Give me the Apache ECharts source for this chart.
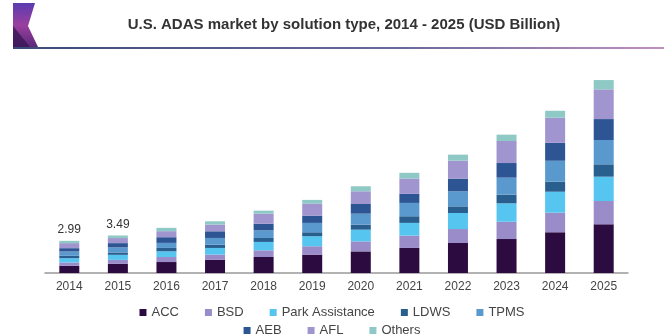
<!DOCTYPE html>
<html>
<head>
<meta charset="utf-8">
<title>U.S. ADAS market by solution type</title>
<script src="https://cdn.jsdelivr.net/npm/echarts@6/dist/echarts.min.js"></script>
<style>
  html, body { margin: 0; padding: 0; background: #ffffff; }
  #chart { width: 664px; height: 336px; }
</style>
</head>
<body>
<div id="chart"></div>
<script>
// Years on the category axis
const years = ['2014', '2015', '2016', '2017', '2018', '2019', '2020', '2021', '2022', '2023', '2024', '2025'];

// Market size per solution type, USD billion
const acc       = [0.67, 0.85, 1.02, 1.24, 1.49, 1.71, 2.01, 2.33, 2.79, 3.16, 3.79, 4.53];
const bsd       = [0.31, 0.37, 0.47, 0.47, 0.62, 0.78, 0.93, 1.15, 1.30, 1.61, 1.82, 2.17];
const parkAssist= [0.40, 0.47, 0.53, 0.62, 0.78, 0.93, 1.09, 1.18, 1.49, 1.71, 1.95, 2.26];
const ldws      = [0.22, 0.22, 0.31, 0.31, 0.37, 0.37, 0.47, 0.62, 0.62, 0.81, 0.93, 1.15];
const tpms      = [0.40, 0.47, 0.47, 0.62, 0.71, 0.87, 1.02, 1.24, 1.40, 1.58, 1.95, 2.26];
const aeb       = [0.31, 0.40, 0.53, 0.62, 0.62, 0.68, 0.90, 0.84, 1.18, 1.36, 1.67, 1.95];
const afl       = [0.47, 0.47, 0.56, 0.62, 0.93, 1.12, 1.18, 1.43, 1.67, 2.05, 2.33, 2.76];
const others    = [0.21, 0.24, 0.31, 0.31, 0.28, 0.34, 0.47, 0.53, 0.56, 0.59, 0.65, 0.87];

// Years whose stack total is printed above the bar
const labelledYears = ['2014', '2015'];

const seriesDefs = [
  { name: 'ACC', data: acc, color: '#2c0b40' },
  { name: 'BSD', data: bsd, color: '#9a8cc8' },
  { name: 'Park Assistance', data: parkAssist, color: '#56c5f0' },
  { name: 'LDWS', data: ldws, color: '#285f8f' },
  { name: 'TPMS', data: tpms, color: '#5a99cd' },
  { name: 'AEB', data: aeb, color: '#2d5593' },
  { name: 'AFL', data: afl, color: '#a095cf' },
  { name: 'Others', data: others, color: '#8fc9c5' }
];

function stackTotal(i) {
  return seriesDefs.reduce((s, d) => s + d.data[i], 0);
}

const FONT = '"Liberation Sans", Arial, sans-serif';

const series = seriesDefs.map((d, idx) => {
  const s = {
    name: d.name,
    type: 'bar',
    stack: 'total',
    barWidth: 20,
    data: d.data,
    itemStyle: { color: d.color },
    emphasis: { disabled: true }
  };
  if (idx === seriesDefs.length - 1) {
    s.label = {
      show: true,
      position: 'top',
      distance: 5,
      color: '#333',
      fontFamily: FONT,
      fontSize: 12,
      formatter: p => labelledYears.includes(p.name) ? stackTotal(p.dataIndex).toFixed(2) : ''
    };
  }
  return s;
});

const chart = echarts.init(document.getElementById('chart'), null, { renderer: 'canvas' });

chart.setOption({
  backgroundColor: '#ffffff',
  animation: false,
  title: {
    text: 'U.S. ADAS market by solution type, 2014 - 2025 (USD Billion)',
    left: 339,
    top: 12,
    textAlign: 'center',
    textStyle: { fontFamily: FONT, fontSize: 15, fontWeight: 'bold', color: '#333' }
  },
  graphic: [
    {
      type: 'polygon',
      shape: { points: [[13, 3], [35, 3], [28, 26], [38, 47], [13, 47]] },
      style: {
        fill: new echarts.graphic.LinearGradient(0, 0, 0, 1, [
          { offset: 0, color: '#5b3cb0' },
          { offset: 0.5, color: '#9a3f9f' },
          { offset: 1, color: '#5a2a7a' }
        ])
      }
    },
    {
      type: 'polygon',
      shape: { points: [[13, 26], [30, 47], [13, 47]] },
      style: { fill: '#3b1656', opacity: 0.8 }
    },
    {
      type: 'rect',
      shape: { x: 13, y: 47, width: 651, height: 2 },
      style: {
        fill: new echarts.graphic.LinearGradient(0, 0, 1, 0, [
          { offset: 0, color: '#3c4a7a' },
          { offset: 0.6, color: '#6a6a9a' },
          { offset: 1, color: '#c090c0' }
        ])
      }
    }
  ],
  legend: [
    {
      data: ['ACC', 'BSD', 'Park Assistance', 'LDWS', 'TPMS'],
      left: 'center',
      top: 301,
      icon: 'rect',
      itemWidth: 7,
      itemHeight: 7,
      itemGap: 26,
      textStyle: { fontFamily: FONT, fontSize: 13, color: '#444' }
    },
    {
      data: ['AEB', 'AFL', 'Others'],
      left: 'center',
      top: 319,
      icon: 'rect',
      itemWidth: 7,
      itemHeight: 7,
      itemGap: 26,
      textStyle: { fontFamily: FONT, fontSize: 13, color: '#444' }
    }
  ],
  grid: { left: 45, right: 36, top: 58, bottom: 63, containLabel: false },
  xAxis: {
    type: 'category',
    data: years,
    axisLine: { lineStyle: { color: '#999', width: 1.5 } },
    axisTick: { show: false },
    axisLabel: { fontFamily: FONT, fontSize: 12, color: '#444', margin: 8 }
  },
  yAxis: {
    type: 'value',
    min: 0,
    max: 20,
    show: false,
    splitLine: { show: false }
  },
  series: series
});
</script>
</body>
</html>
